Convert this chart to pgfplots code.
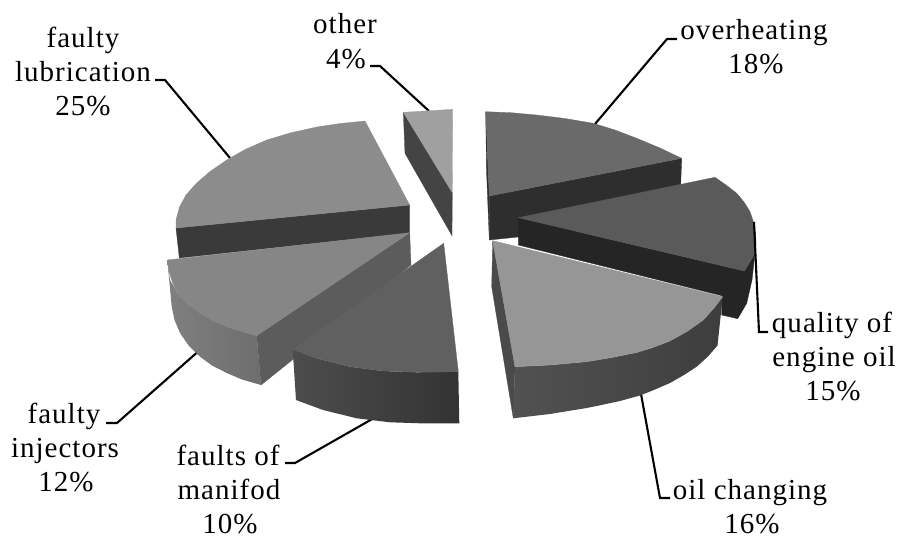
\documentclass[border=0pt]{standalone}
\usepackage{fontspec}
\setmainfont[LetterSpace=3.5]{Liberation Serif}
\usepackage{pgfplots}
\pgfplotsset{compat=1.18}
\definecolor{lubTop}{HTML}{8C8C8C}
\definecolor{lubSide}{HTML}{3A3A3A}
\definecolor{injTop}{HTML}{868686}
\definecolor{injInner}{HTML}{5C5C5C}
\definecolor{manTop}{HTML}{606060}
\definecolor{othTop}{HTML}{A0A0A0}
\definecolor{othSide}{HTML}{444444}
\definecolor{ovhTop}{HTML}{6A6A6A}
\definecolor{ovhSide}{HTML}{2E2E2E}
\definecolor{quaTop}{HTML}{5A5A5A}
\definecolor{quaSide}{HTML}{252525}
\definecolor{oilTop}{HTML}{969696}
\definecolor{oilSide}{HTML}{4A4A4A}
\tikzset{
  face/.style={draw=#1,fill=#1,line width=0.3pt},
  leader/.style={draw=black,line width=2.1pt,line join=miter},
  lab/.style={anchor=base,font=\fontsize{29}{34}\selectfont,text=black,inner sep=0pt}
}
\begin{document}
\begin{tikzpicture}
\begin{axis}[
  scale only axis,width=898pt,height=538pt,
  xmin=0,xmax=898,ymin=0,ymax=538,y dir=reverse,
  axis line style={draw=none},ticks=none,no markers,clip=true]

% leader lines lying behind the slices
\addplot[leader] coordinates {(155,80)(165,80)(230,158)};
\addplot[leader] coordinates {(370,66)(380,66)(429,111)};
\addplot[leader] coordinates {(677,39)(667,39)(595,124)};
\addplot[leader] coordinates {(106,423)(117,423)(201,349)};
\addplot[leader] coordinates {(285,463)(295,463)(374,418)};
\addplot[leader] coordinates {(641,394)(660,498)(670,498)};

% faulty lubrication
\addplot[face=lubSide] coordinates {(176,228)(409.7,205)(409.7,233)(179.3,258)(176,228)};
\addplot[face=lubTop] coordinates {(409.7,205)(365,121)(340,123.5)(316.7,127)(290,133)(266.7,140)(245,149.5)(226.7,160)(210,171.5)(196.7,183)(186,195)(179.5,207)(176,220)(176,228)(409.7,205)};

% faulty injectors
\addplot[face=injInner] coordinates {(256.7,335.7)(409.7,232.7)(411,265)(261,385)(256.7,335.7)};
\addplot[draw=none,left color=black!50,right color=black!57] coordinates {(167.3,260)(170,280)(180,296.7)(200,313)(226.7,326.7)(256.7,335.7)(261,385)(242,379.5)(226.7,373)(212,365.5)(200,356.7)(189,346)(180,333)(174.5,320)(171.7,306.7)(167.3,260)};
\addplot[face=injTop] coordinates {(409.7,232.7)(167.3,260)(169,272)(173,284)(180,296.7)(189,305.5)(200,313)(212,320.5)(226.7,326.7)(241,331.5)(256.7,335.7)(409.7,232.7)};

% faults of manifold
\addplot[draw=none,left color=black!70,right color=black!80] coordinates {(292.7,349.3)(316.7,358.3)(350,366.7)(383,371)(416.7,372.3)(458.3,371.7)(459.3,423.3)(420,423.3)(390,422.3)(356.7,418.3)(323,410)(296,400)(292.7,349.3)};
\addplot[face=manTop] coordinates {(443.7,243.3)(292.7,349.3)(316.7,358.3)(350,366.7)(383,371)(416.7,372.3)(458.3,371.7)(443.7,243.3)};

% other
\addplot[face=othSide] coordinates {(403.3,112.3)(452.3,192.7)(452,235.7)(405,153.3)(403.3,112.3)};
\addplot[face=othTop] coordinates {(403.3,112.3)(452.7,109.3)(452.3,192.7)(403.3,112.3)};

% overheating
\addplot[face=ovhSide] coordinates {(485.7,111.7)(489.3,196)(489.3,240)(486.5,170)(485.7,111.7)};
\addplot[face=ovhSide] coordinates {(489.3,196)(681.7,158.3)(680.7,185)(680.7,220)(489.3,240)(489.3,196)};
\addplot[face=ovhTop] coordinates {(485.7,111.7)(511,112.7)(536.7,115)(565,118.5)(593.3,123.3)(615,130)(636.7,138.3)(660,148)(681.7,158.3)(489.3,196)(485.7,111.7)};

% quality of engine oil
\addplot[face=quaSide] coordinates {(518.3,217.7)(744.3,271)(755,253.3)(752,280)(746.7,303.3)(737.7,318.7)(721.7,315)(721.7,295.7)(518.3,245)(518.3,217.7)};
\addplot[face=quaTop] coordinates {(518.3,217.7)(715,177.3)(726,185)(736.7,193.3)(744,202)(750,211.7)(753.5,222)(755.7,233.3)(756,243)(755,253.3)(750,262)(744.3,271)(518.3,217.7)};
\addplot[leader] coordinates {(754,222)(759,332)(768,332)};

% oil changing
\addplot[face=oilSide] coordinates {(492.7,240.7)(515,366.7)(513.3,418.3)(491.7,286.7)(492.7,240.7)};
\addplot[draw=none,left color=black!68,right color=black!76] coordinates {(515,366.7)(550,365)(586.7,361.7)(612,357.5)(636.7,352.5)(653,347.5)(670,341)(687,331.5)(703.3,320)(714,308)(722.7,296.7)(717.5,345.5)(708,356.5)(696.7,366.7)(684,375)(670,383)(655,389.5)(640,395.5)(620,401)(600,405.3)(586.7,408)(550,414)(513.3,418.3)(515,366.7)};
\addplot[face=oilTop] coordinates {(492.7,240.7)(722.7,296.7)(714,308)(703.3,320)(687,331.5)(670,341)(653,347.5)(636.7,352.5)(612,357.5)(586.7,361.7)(550,365)(515,366.7)(492.7,240.7)};

% slice labels
\node[lab] at (axis cs:83,47) {faulty};
\node[lab] at (axis cs:83,81) {lubrication};
\node[lab] at (axis cs:83,115) {25\%};
\node[lab] at (axis cs:345,33) {other};
\node[lab] at (axis cs:346,68) {4\%};
\node[lab] at (axis cs:754,39) {overheating};
\node[lab] at (axis cs:756,73) {18\%};
\node[lab] at (axis cs:64,423) {faulty};
\node[lab] at (axis cs:65,457) {injectors};
\node[lab] at (axis cs:66,491) {12\%};
\node[lab] at (axis cs:228,465) {faults of};
\node[lab] at (axis cs:229,499) {manifod};
\node[lab] at (axis cs:230,533) {10\%};
\node[lab] at (axis cs:832,332) {quality of};
\node[lab] at (axis cs:834,366) {engine oil};
\node[lab] at (axis cs:833,400) {15\%};
\node[lab] at (axis cs:750,499) {oil changing};
\node[lab] at (axis cs:752,533) {16\%};
\end{axis}
\end{tikzpicture}
\end{document}
